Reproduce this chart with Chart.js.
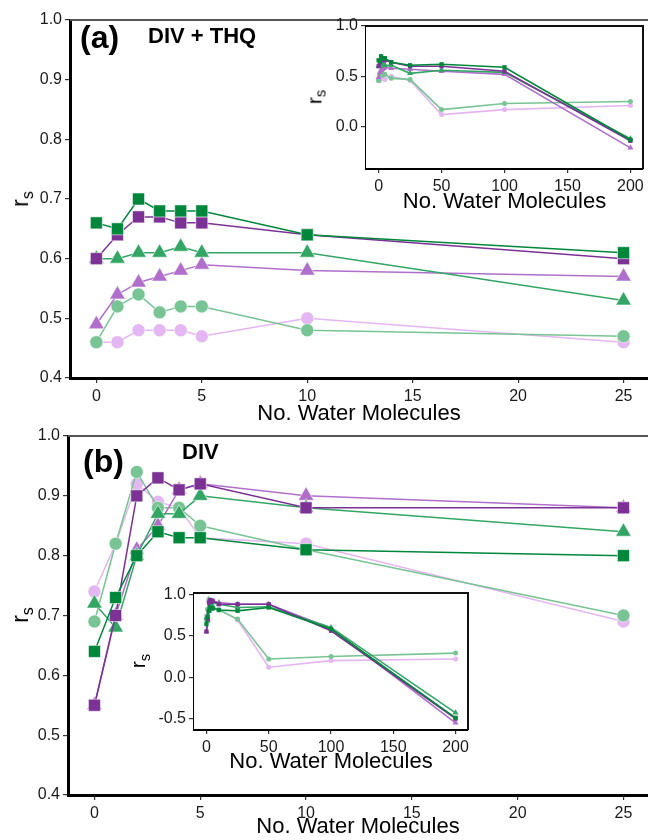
<!DOCTYPE html>
<html>
<head>
<meta charset="utf-8">
<script src="https://cdn.jsdelivr.net/npm/chart.js@4.4.1/dist/chart.umd.min.js"></script>
<style>
  body { margin: 0; background: #fff; overflow: hidden; }
  #wrap { position: relative; width: 648px; height: 840px; font-family: "Liberation Sans", Arial, sans-serif; color: #000; }
  canvas { position: absolute; }
  .lbl { position: absolute; font-weight: bold; white-space: nowrap; line-height: 1; }
  .rs { position: absolute; white-space: nowrap; line-height: 1; transform: translate(-50%, -50%) rotate(-90deg); }
  .rs sub { font-size: 70%; vertical-align: -0.3em; }
</style>
</head>
<body>
<div id="wrap">
  <canvas id="mainA" width="648" height="427" style="left:0;top:0"></canvas>
  <canvas id="insetA" width="348" height="215" style="left:300px;top:0"></canvas>
  <canvas id="mainB" width="648" height="430" style="left:0;top:410px"></canvas>
  <canvas id="insetB" width="345" height="195" style="left:130px;top:580px"></canvas>

  <div class="lbl" style="left:80px;top:21px;font-size:32px">(a)</div>
  <div class="lbl" style="left:148px;top:25px;font-size:22px">DIV + THQ</div>
  <div class="lbl" style="left:83px;top:445px;font-size:32px">(b)</div>
  <div class="lbl" style="left:182px;top:441px;font-size:22px">DIV</div>

  <div class="rs" style="left:22px;top:199px;font-size:23px">r<sub>s</sub></div>
  <div class="rs" style="left:316px;top:97px;font-size:21px">r<sub>s</sub></div>
  <div class="rs" style="left:22px;top:615px;font-size:23px">r<sub>s</sub></div>
  <div class="rs" style="left:140px;top:661px;font-size:21px">r<sub>s</sub></div>
</div>
<script>
const FONT = '"Liberation Sans", Arial, sans-serif';

// number of water molecules
const waters = [0, 1, 2, 3, 4, 5, 10, 25, 50, 100, 200];
const nMain = 8; // main panels stop at 25

const xTicksMain = [0, 5, 10, 15, 20, 25];
const yTicksMain = [0.4, 0.5, 0.6, 0.7, 0.8, 0.9, 1.0];
const xTicksInset = [0, 50, 100, 150, 200];
const yTicksInsetA = [0, 0.5, 1.0];
const yTicksInsetB = [-0.5, 0, 0.5, 1.0];

// (a) DIV + THQ
const sqGreenA   = [0.66, 0.65, 0.70, 0.68, 0.68, 0.68, 0.64, 0.61, 0.62, 0.59, -0.13];
const sqPurpleA  = [0.60, 0.64, 0.67, 0.67, 0.66, 0.66, 0.64, 0.60, 0.60, 0.55, -0.14];
const triGreenA  = [0.60, 0.60, 0.61, 0.61, 0.62, 0.61, 0.61, 0.53, 0.56, 0.54, -0.12];
const triPurpleA = [0.49, 0.54, 0.56, 0.57, 0.58, 0.59, 0.58, 0.57, 0.55, 0.52, -0.21];
const cirGreenA  = [0.46, 0.52, 0.54, 0.51, 0.52, 0.52, 0.48, 0.47, 0.17, 0.23, 0.25];
const cirPurpleA = [0.46, 0.46, 0.48, 0.48, 0.48, 0.47, 0.50, 0.46, 0.12, 0.17, 0.21];

// (b) DIV
const sqGreenB   = [0.64, 0.73, 0.80, 0.84, 0.83, 0.83, 0.81, 0.80, 0.84, 0.58, -0.49];
const sqPurpleB  = [0.55, 0.70, 0.90, 0.93, 0.91, 0.92, 0.88, 0.88, 0.88, 0.56, -0.50];
const triGreenB  = [0.72, 0.68, 0.80, 0.87, 0.87, 0.90, 0.88, 0.84, 0.85, 0.60, -0.43];
const triPurpleB = [0.55, 0.70, 0.81, 0.85, 0.91, 0.92, 0.90, 0.88, 0.88, 0.59, -0.55];
const cirGreenB  = [0.69, 0.82, 0.94, 0.88, 0.88, 0.85, 0.81, 0.70, 0.22, 0.25, 0.29];
const cirPurpleB = [0.74, 0.82, 0.92, 0.89, 0.88, 0.83, 0.82, 0.69, 0.12, 0.20, 0.22];

// first entry is drawn on top
const looks = [
  { color: '#00873C', shape: 'rect',     r: 8.5, ri: 3 },
  { color: '#7B3294', shape: 'rect',     r: 8.5, ri: 3 },
  { color: '#33A665', shape: 'triangle', r: 9,   ri: 3.5 },
  { color: '#B06FCB', shape: 'triangle', r: 9,   ri: 3.5 },
  { color: '#78C494', shape: 'circle',   r: 6.5, ri: 2.5 },
  { color: '#E4B6F2', shape: 'circle',   r: 6.5, ri: 2.5 }
];

// draws the extra frame lines and the white panel for the insets
const framePlugin = {
  id: 'frame',
  beforeDatasetsDraw(chart, args, opts) {
    if (!opts.fill) return;
    const a = chart.chartArea;
    chart.ctx.save();
    chart.ctx.fillStyle = '#fff';
    chart.ctx.fillRect(a.left, a.top, a.right - a.left, a.bottom - a.top);
    chart.ctx.restore();
  },
  afterDraw(chart, args, opts) {
    const a = chart.chartArea, ctx = chart.ctx;
    ctx.save();
    ctx.strokeStyle = opts.color;
    ctx.lineWidth = opts.width;
    ctx.beginPath();
    ctx.moveTo(a.left, a.top);
    ctx.lineTo(a.right, a.top);
    if (opts.right) ctx.lineTo(a.right, a.bottom + 1);
    ctx.stroke();
    ctx.restore();
  }
};

function makeSets(series, n, big) {
  return series.map((vals, i) => {
    const s = looks[i];
    return {
      data: waters.slice(0, n).map((x, j) => ({ x: x, y: vals[j] })),
      showLine: true,
      tension: 0,
      borderColor: s.color,
      backgroundColor: s.color,
      borderWidth: big ? 1.5 : 1.6,
      pointStyle: s.shape,
      pointRadius: big ? s.r : s.ri,
      pointBorderColor: big ? 'rgba(255,255,255,0.55)' : s.color,
      pointBorderWidth: big ? 1 : 0,
      clip: 6
    };
  });
}

function axis(o) {
  return {
    type: 'linear',
    min: o.min,
    max: o.max,
    afterBuildTicks: s => { s.ticks = o.ticks.map(v => ({ value: v })); },
    afterFit: s => { if (s.isHorizontal()) s.height = o.fit; else s.width = o.fit; },
    ticks: {
      font: { family: FONT, size: 16 },
      color: '#1a1a1a',
      padding: o.pad,
      autoSkip: false,
      maxRotation: 0,
      callback: o.fmt
    },
    grid: { drawOnChartArea: false, tickLength: 5, color: '#333', lineWidth: 1.2 },
    border: { color: '#000', width: 3 },
    title: o.title
      ? { display: true, text: o.title, font: { family: FONT, size: 22 }, color: '#000', padding: 0 }
      : { display: false }
  };
}

const oneDec = v => v.toFixed(1);
const plain = v => String(v);

function draw(id, series, n, big, sc, pad, frame) {
  new Chart(document.getElementById(id), {
    type: 'scatter',
    data: { datasets: makeSets(series, n, big) },
    options: {
      responsive: false,
      animation: false,
      devicePixelRatio: 1,
      layout: { padding: pad, autoPadding: false },
      plugins: { legend: { display: false }, tooltip: { enabled: false }, frame: frame },
      scales: sc
    },
    plugins: [framePlugin]
  });
}

const seriesA = [sqGreenA, sqPurpleA, triGreenA, triPurpleA, cirGreenA, cirPurpleA];
const seriesB = [sqGreenB, sqPurpleB, triGreenB, triPurpleB, cirGreenB, cirPurpleB];

// main panels
draw('mainA', seriesA, nMain, true, {
  x: axis({ min: -1.25, max: 26.16, ticks: xTicksMain, fmt: plain, fit: 49, pad: 4, title: 'No. Water Molecules' }),
  y: axis({ min: 0.4, max: 1.0, ticks: yTicksMain, fmt: oneDec, fit: 70, pad: 3 })
}, { top: 20, right: 0, bottom: 0, left: 0 }, { color: '#555', width: 2, right: false, fill: false });

draw('mainB', seriesB, nMain, true, {
  x: axis({ min: -1.25, max: 26.16, ticks: xTicksMain, fmt: plain, fit: 45, pad: 4, title: 'No. Water Molecules' }),
  y: axis({ min: 0.4, max: 1.0, ticks: yTicksMain, fmt: oneDec, fit: 68, pad: 3 })
}, { top: 26, right: 0, bottom: 0, left: 0 }, { color: '#555', width: 2, right: false, fill: false });

// insets, full range of water molecules
draw('insetA', seriesA, waters.length, false, {
  x: axis({ min: -10, max: 210, ticks: xTicksInset, fmt: plain, fit: 47, pad: 4, title: 'No. Water Molecules' }),
  y: axis({ min: -0.41, max: 1.0, ticks: yTicksInsetA, fmt: oneDec, fit: 66, pad: 3 })
}, { top: 26, right: 5, bottom: 0, left: 0 }, { color: '#111', width: 2, right: true, fill: true });

draw('insetB', seriesB, waters.length, false, {
  x: axis({ min: -10, max: 210, ticks: xTicksInset, fmt: plain, fit: 46, pad: 4, title: 'No. Water Molecules' }),
  y: axis({ min: -0.625, max: 1.015, ticks: yTicksInsetB, fmt: oneDec, fit: 64, pad: 3 })
}, { top: 13, right: 7, bottom: 0, left: 0 }, { color: '#111', width: 2, right: true, fill: true });
</script>
</body>
</html>
